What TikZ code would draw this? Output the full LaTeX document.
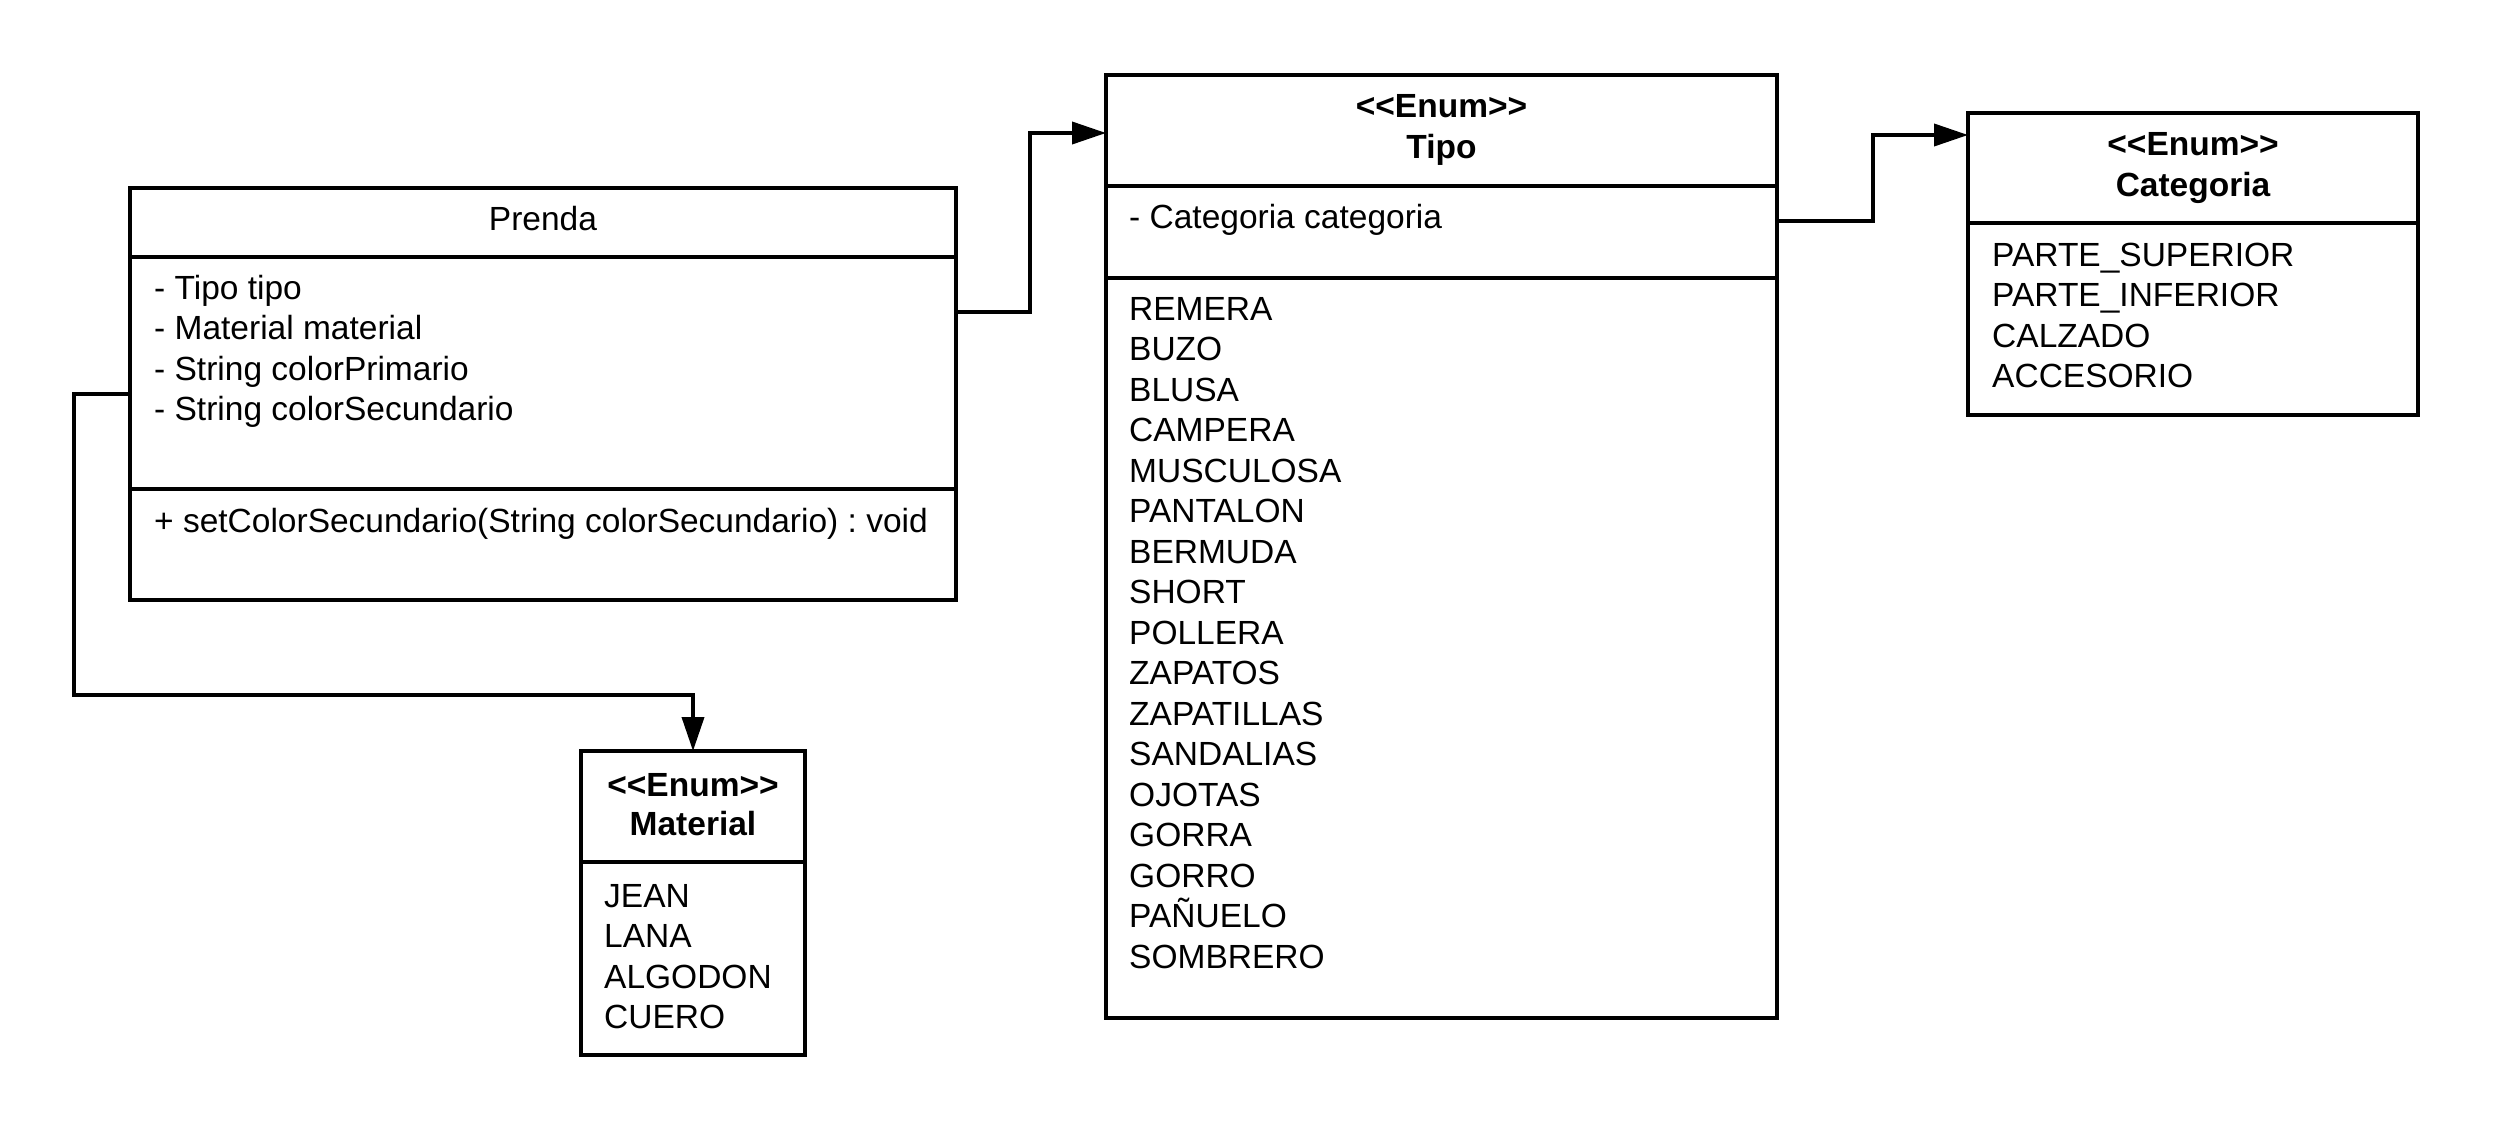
\documentclass[tikz,border=0pt]{standalone}
\usepackage{fontspec}
\setmainfont{Liberation Sans}
\usetikzlibrary{arrows.meta}
\frenchspacing
\tikzset{
  box/.style={draw, line width=4pt, inner sep=0pt, outer sep=0pt, rectangle},
  divider/.style={line width=4pt},
  conn/.style={line width=3.8pt, -{Triangle[length=34pt,width=22pt]}},
  txt/.style={anchor=base west, inner sep=0pt, font=\fontsize{33.5}{40}\selectfont},
  ttl/.style={anchor=base, inner sep=0pt, font=\fontsize{33.5}{40}\selectfont},
  bttl/.style={anchor=base, inner sep=0pt, font=\bfseries\fontsize{33.5}{40}\selectfont}
}
\begin{document}
\begin{tikzpicture}[x=1pt,y=-1pt]
\useasboundingbox[fill=white] (0,0) rectangle (2494,1129);

% Boxes
\node[box, minimum width=826pt, minimum height=412pt] (prenda) at (543,394) {};
\node[box, minimum width=671pt, minimum height=943pt] (tipo) at (1441.5,546.5) {};
\node[box, minimum width=450pt, minimum height=302pt] (cat) at (2193,264) {};
\node[box, minimum width=224pt, minimum height=304pt] (mat) at (693,903) {};

% Dividers
\draw[divider] (prenda.west |- 0,257) -- (prenda.east |- 0,257);
\draw[divider] (prenda.west |- 0,489) -- (prenda.east |- 0,489);
\draw[divider] (tipo.west |- 0,186) -- (tipo.east |- 0,186);
\draw[divider] (tipo.west |- 0,278) -- (tipo.east |- 0,278);
\draw[divider] (cat.west |- 0,223) -- (cat.east |- 0,223);
\draw[divider] (mat.west |- 0,862) -- (mat.east |- 0,862);

% Prenda texts
\node[ttl] (prenda-title) at (543,230) {Prenda};
\node[txt] (prenda-a1) at (154,299) {- Tipo tipo};
\node[txt] (prenda-a2) at (154,339.5) {- Material material};
\node[txt] (prenda-a3) at (154,380) {- String colorPrimario};
\node[txt] (prenda-a4) at (154,420.5) {- String colorSecundario};
\node[txt] (prenda-m1) at (154,532) {+ setColorSecundario(String colorSecundario) : void};

% Tipo texts
\node[bttl] (tipo-st) at (1441.5,118) {<{}<Enum>{}>};
\node[bttl] (tipo-title) at (1441.5,158) {Tipo};
\node[txt] (tipo-a1) at (1129,228) {- Categoria categoria};
\foreach \t [count=\i from 0] in {REMERA,BUZO,BLUSA,CAMPERA,MUSCULOSA,PANTALON,BERMUDA,SHORT,POLLERA,ZAPATOS,ZAPATILLAS,SANDALIAS,OJOTAS,GORRA,GORRO,PAÑUELO,SOMBRERO}
  \node[txt] (tipo-v\i) at (1129,{320+40.5*\i}) {\t};

% Categoria texts
\node[bttl] (cat-st) at (2193,155) {<{}<Enum>{}>};
\node[bttl] (cat-title) at (2193,196) {Categoria};
\node[txt] (cat-v0) at (1992,266) {PARTE\_SUPERIOR};
\node[txt] (cat-v1) at (1992,306.5) {PARTE\_INFERIOR};
\node[txt] (cat-v2) at (1992,347) {CALZADO};
\node[txt] (cat-v3) at (1992,387.5) {ACCESORIO};

% Material texts
\node[bttl] (mat-st) at (693,796) {<{}<Enum>{}>};
\node[bttl] (mat-title) at (693,835) {Material};
\node[txt] (mat-v0) at (604,907) {JEAN};
\node[txt] (mat-v1) at (604,947.5) {LANA};
\node[txt] (mat-v2) at (604,988) {ALGODON};
\node[txt] (mat-v3) at (604,1028.5) {CUERO};

% Connectors
\draw[conn] (prenda.east |- 0,312) -| (1030,133) -- (tipo.west |- 0,133);
\draw[conn] (tipo.east |- 0,221) -| (1873,135) -- (cat.west |- 0,135);
\draw[conn] (prenda.west |- 0,394) -| (74,695) -| (mat.north);
\end{tikzpicture}
\end{document}
